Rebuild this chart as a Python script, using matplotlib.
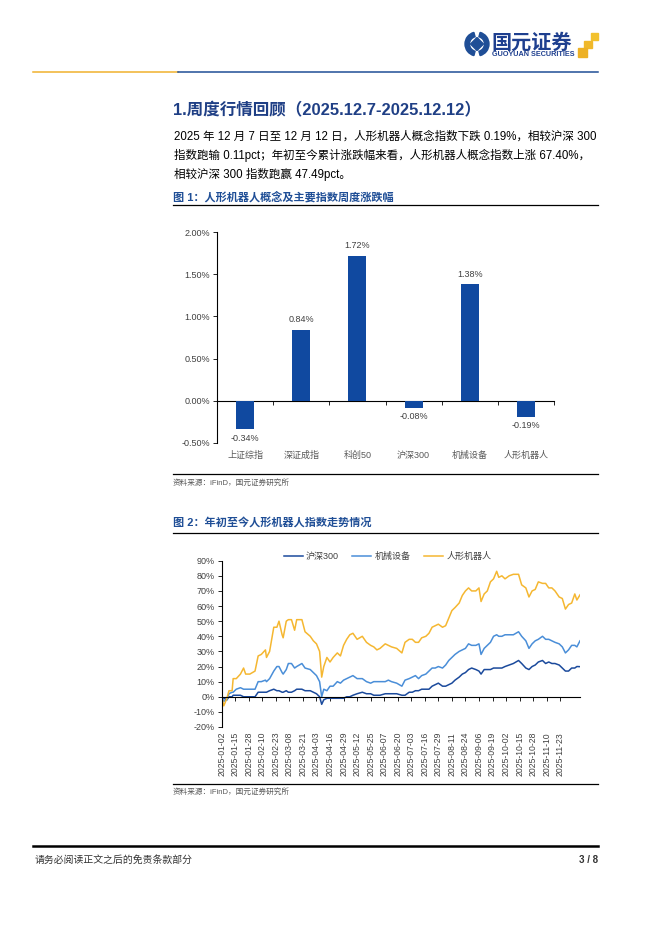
import numpy as np
import pandas as pd
import matplotlib
matplotlib.use('Agg')
import matplotlib.pyplot as plt
from matplotlib.patches import Rectangle, Wedge, Polygon

plt.rcParams['font.family'] = ['Liberation Sans', 'Noto Sans CJK SC']

W, H = 662, 936
BLUE = '#1F4E96'
GRAY = '#404040'

# 图1 周度涨跌幅 (%)
bar_names = ['上证综指', '深证成指', '科创50', '沪深300', '机械设备', '人形机器人']
bar_values = [-0.34, 0.84, 1.72, -0.08, 1.38, -0.19]

# 图2 年初至今累计涨跌幅 (%)
dates = ['2025-01-02', '2025-01-04', '2025-01-07', '2025-01-09', '2025-01-12', '2025-01-13', '2025-01-16',
         '2025-01-20', '2025-01-23', '2025-01-25', '2025-01-29', '2025-02-03', '2025-02-06', '2025-02-09',
         '2025-02-13', '2025-02-14', '2025-02-17', '2025-02-21', '2025-02-24', '2025-02-26', '2025-03-01',
         '2025-03-02', '2025-03-05', '2025-03-07', '2025-03-10', '2025-03-13', '2025-03-15', '2025-03-20',
         '2025-03-23', '2025-03-28', '2025-03-31', '2025-04-03', '2025-04-06', '2025-04-08', '2025-04-10',
         '2025-04-13', '2025-04-16', '2025-04-19', '2025-04-23', '2025-04-26', '2025-04-29', '2025-05-02',
         '2025-05-05', '2025-05-08', '2025-05-12', '2025-05-17', '2025-05-21', '2025-05-25', '2025-05-28',
         '2025-05-31', '2025-06-03', '2025-06-08', '2025-06-11', '2025-06-14', '2025-06-19', '2025-06-24',
         '2025-06-27', '2025-07-01', '2025-07-04', '2025-07-07', '2025-07-10', '2025-07-13', '2025-07-17',
         '2025-07-20', '2025-07-23', '2025-07-26', '2025-07-29', '2025-08-02', '2025-08-05', '2025-08-08',
         '2025-08-11', '2025-08-14', '2025-08-18', '2025-08-21', '2025-08-24', '2025-08-27', '2025-08-30',
         '2025-09-03', '2025-09-06', '2025-09-08', '2025-09-11', '2025-09-14', '2025-09-17', '2025-09-20',
         '2025-09-23', '2025-09-25', '2025-09-28', '2025-10-01', '2025-10-05', '2025-10-09', '2025-10-14',
         '2025-10-17', '2025-10-21', '2025-10-24', '2025-10-27', '2025-10-30', '2025-11-02', '2025-11-06',
         '2025-11-09', '2025-11-12', '2025-11-15', '2025-11-18', '2025-11-22', '2025-11-25', '2025-11-28',
         '2025-12-01', '2025-12-04', '2025-12-07', '2025-12-09', '2025-12-12']

robot = [0, -6, -1, 4, 4, 12, 12, 15, 19, 15,
         15, 17, 27, 28, 31, 26, 30, 46, 46, 50,
         41, 39, 50, 51, 51, 44, 51, 51, 43, 40,
         37, 35, 30, 13, 20, 26, 23, 26, 29, 27,
         34, 38, 41, 42, 38, 40, 36, 34, 33, 31,
         32, 35, 34, 33, 32, 29, 36, 38, 38, 36,
         36, 39, 40, 42, 46, 47, 48, 46, 47, 52,
         57, 59, 62, 67, 70, 72, 70, 70, 72, 63,
         68, 70, 76, 78, 83, 79, 80, 78, 80, 81,
         81, 74, 72, 66, 70, 71, 76, 75, 75, 72,
         72, 70, 66, 65, 58, 61, 62, 68, 64, 67.40]

machinery = [0, -3, -2, 2, 3, 3, 5, 6, 5, 5,
             5, 5, 10, 10, 11, 10, 12, 17, 20, 20,
             16, 15, 18, 22, 22, 19, 20, 22, 19, 18,
             16, 14, 10, 0, 5, 4, 7, 7, 10, 9,
             11, 12, 13, 14, 12, 12, 10, 9, 10, 10,
             10, 10, 11, 10, 9, 7, 11, 12, 13, 14,
             12, 14, 15, 17, 19, 19, 20, 19, 21, 24,
             26, 28, 30, 31, 32, 35, 34, 34, 35, 28,
             32, 34, 36, 40, 41, 40, 40, 41, 41, 41,
             43, 40, 37, 32, 35, 37, 38, 40, 38, 38,
             37, 36, 35, 33, 29, 31, 34, 34, 33, 37]

hs300 = [0, -1, -2, 0, 0, 1, 1, 1, 0, 0,
         0, 0, 3, 3, 3, 3, 4, 5, 4, 4,
         3, 3, 4, 3, 3, 4, 5, 5, 4, 4,
         3, 2, 0, -5, -2, -1, -1, -1, -1, -1,
         -1, 0, 0, 1, 2, 3, 2, 2, 1, 1,
         1, 2, 2, 2, 2, 1, 1, 3, 3, 4,
         4, 5, 5, 5, 7, 8, 9, 7, 7, 8,
         9, 11, 13, 15, 16, 18, 19, 18, 17, 15,
         18, 18, 18, 19, 19, 19, 19, 20, 21, 22,
         24, 22, 19, 18, 20, 21, 23, 24, 22, 23,
         22, 22, 21, 19, 17, 17, 19, 19, 20, 19.91]

date_ticks = ['2025-01-02', '2025-01-15', '2025-01-28', '2025-02-10', '2025-02-23', '2025-03-08',
              '2025-03-21', '2025-04-03', '2025-04-16', '2025-04-29', '2025-05-12', '2025-05-25',
              '2025-06-07', '2025-06-20', '2025-07-03', '2025-07-16', '2025-07-29', '2025-08-11',
              '2025-08-24', '2025-09-06', '2025-09-19', '2025-10-02', '2025-10-15', '2025-10-28',
              '2025-11-10', '2025-11-23']

body_lines = ['2025 年 12 月 7 日至 12 月 12 日，人形机器人概念指数下跌 0.19%，相较沪深 300',
              '指数跑输 0.11pct；年初至今累计涨跌幅来看，人形机器人概念指数上涨 67.40%，',
              '相较沪深 300 指数跑赢 47.49pct。']


def box(x0, y0, x1, y1):
    # pixel box on the page -> figure rect
    return [x0 / W, 1 - y1 / H, (x1 - x0) / W, (y1 - y0) / H]


fig = plt.figure(figsize=(W / 100, H / 100), dpi=100)
page = fig.add_axes([0, 0, 1, 1])
page.set_xlim(0, W)
page.set_ylim(H, 0)
page.axis('off')

# header logo
page.add_patch(Wedge((477, 44), 12, 105, 255, width=4.5, color=BLUE))
page.add_patch(Wedge((477, 44), 12, 285, 75, width=4.5, color=BLUE))
page.add_patch(Polygon([(477, 37.5), (483.5, 44), (477, 50.5), (470.5, 44)], color=BLUE))
page.text(491, 42.5, '国元证券', fontsize=14.5, fontweight='bold', color='#1E3F8F', va='center', ha='left')
page.text(492, 54.5, 'GUOYUAN SECURITIES', fontsize=5.2, fontweight='bold', color='#1E3F8F', va='center', ha='left')
page.add_patch(Rectangle((591, 33), 7, 7, color='#F2C12E'))
page.add_patch(Rectangle((584, 41), 8, 7, color='#F0B82A'))
page.add_patch(Rectangle((578, 48), 9, 9, color='#EDB125'))

page.plot([33, 178], [72, 72], color='#F0B12E', lw=1.1)
page.plot([178, 598], [72, 72], color=BLUE, lw=1.1)

# section title and body
page.text(173, 110, '1.周度行情回顾（2025.12.7-2025.12.12）', fontsize=11.9, fontweight='bold',
          color='#1F3F85', va='center', ha='left')
for i, line in enumerate(body_lines):
    page.text(174, 137 + i * 18.5, line, fontsize=8.3, color='black', va='center', ha='left')

page.text(173, 196.5, '图 1：人形机器人概念及主要指数周度涨跌幅', fontsize=8, fontweight='bold',
          color=BLUE, va='center', ha='left')
page.plot([173, 598], [205, 205], color='black', lw=0.9)
page.plot([173, 598], [474, 474], color='black', lw=0.9)
page.text(173, 483, '资料来源：iFinD，国元证券研究所', fontsize=5.5, color='#595959', va='center', ha='left')

page.text(173, 522, '图 2：年初至今人形机器人指数走势情况', fontsize=8, fontweight='bold',
          color=BLUE, va='center', ha='left')
page.plot([173, 598], [533, 533], color='black', lw=0.9)
page.plot([173, 598], [784, 784], color='black', lw=0.9)
page.text(173, 792, '资料来源：iFinD，国元证券研究所', fontsize=5.5, color='#595959', va='center', ha='left')

# footer
page.plot([33, 598], [846, 846], color='black', lw=1.8)
page.text(35, 860, '请务必阅读正文之后的免责条款部分', fontsize=7.1, color='#333333', va='center', ha='left')
page.text(598, 860, '3 / 8', fontsize=7, fontweight='bold', color='#333333', va='center', ha='right')

# chart 1
ax1 = fig.add_axes(box(217, 232, 554, 443))
x = np.arange(len(bar_names))
ax1.bar(x, bar_values, width=0.32, color='#1049A0', zorder=3)
ax1.set_xlim(-0.5, len(bar_names) - 0.5)
ax1.set_ylim(-0.5, 2.0)
ax1.set_yticks(np.arange(-0.5, 2.01, 0.5))
ax1.yaxis.set_major_formatter(lambda v, p: f'{v:.2f}%')
ax1.spines['bottom'].set_position(('data', 0))
for s in ['top', 'right']:
    ax1.spines[s].set_visible(False)
ax1.spines['left'].set_linewidth(0.8)
ax1.spines['bottom'].set_linewidth(0.8)
ax1.set_xticks(np.arange(0.5, len(bar_names), 1))
ax1.tick_params(axis='x', length=3, width=0.6, labelbottom=False)
ax1.tick_params(axis='y', length=3, width=0.6, labelsize=6.5, labelcolor=GRAY, pad=2)
for i, (n, v) in enumerate(zip(bar_names, bar_values)):
    ax1.annotate(f'{v:.2f}%', (i, v), xytext=(0, 7.2 if v > 0 else -6.5), textcoords='offset points',
                 ha='center', va='center', fontsize=6.5, color=GRAY)
    ax1.text(i, -0.057, n, transform=ax1.get_xaxis_transform(), ha='center', va='center',
             fontsize=6.5, color='#595959')

# chart 2
ax2 = fig.add_axes(box(221.7, 560.7, 580, 727))
d = pd.to_datetime(dates)
ax2.plot(d, hs300, color='#1B4A9C', lw=1.1, label='沪深300')
ax2.plot(d, machinery, color='#4A8ED8', lw=1.1, label='机械设备')
ax2.plot(d, robot, color='#F5B731', lw=1.1, label='人形机器人')
ax2.set_xlim(d[0], d[-1])
ax2.set_ylim(-20, 90)
ax2.set_yticks(range(-20, 91, 10))
ax2.yaxis.set_major_formatter(lambda v, p: f'{v:.0f}%')
ax2.spines['bottom'].set_position(('data', 0))
for s in ['top', 'right']:
    ax2.spines[s].set_visible(False)
ax2.spines['left'].set_linewidth(0.8)
ax2.spines['bottom'].set_linewidth(0.8)
tick_dates = pd.to_datetime(date_ticks)
ax2.set_xticks(tick_dates)
ax2.tick_params(axis='x', length=3, width=0.6, labelbottom=False)
ax2.tick_params(axis='y', length=3, width=0.6, labelsize=6.5, labelcolor=GRAY, pad=2)
for t, lab in zip(tick_dates, date_ticks):
    ax2.text(t, -0.03, lab, transform=ax2.get_xaxis_transform(), rotation=90, ha='center', va='top',
             fontsize=6.2, color=GRAY)
fig.legend(loc='center', bbox_to_anchor=(387.5 / W, 1 - 556.5 / H), ncol=3, frameon=False,
           fontsize=6.5, handlelength=2.1, handletextpad=0.35, columnspacing=1.5, labelcolor=GRAY)

fig.savefig('out.png', dpi=100)
